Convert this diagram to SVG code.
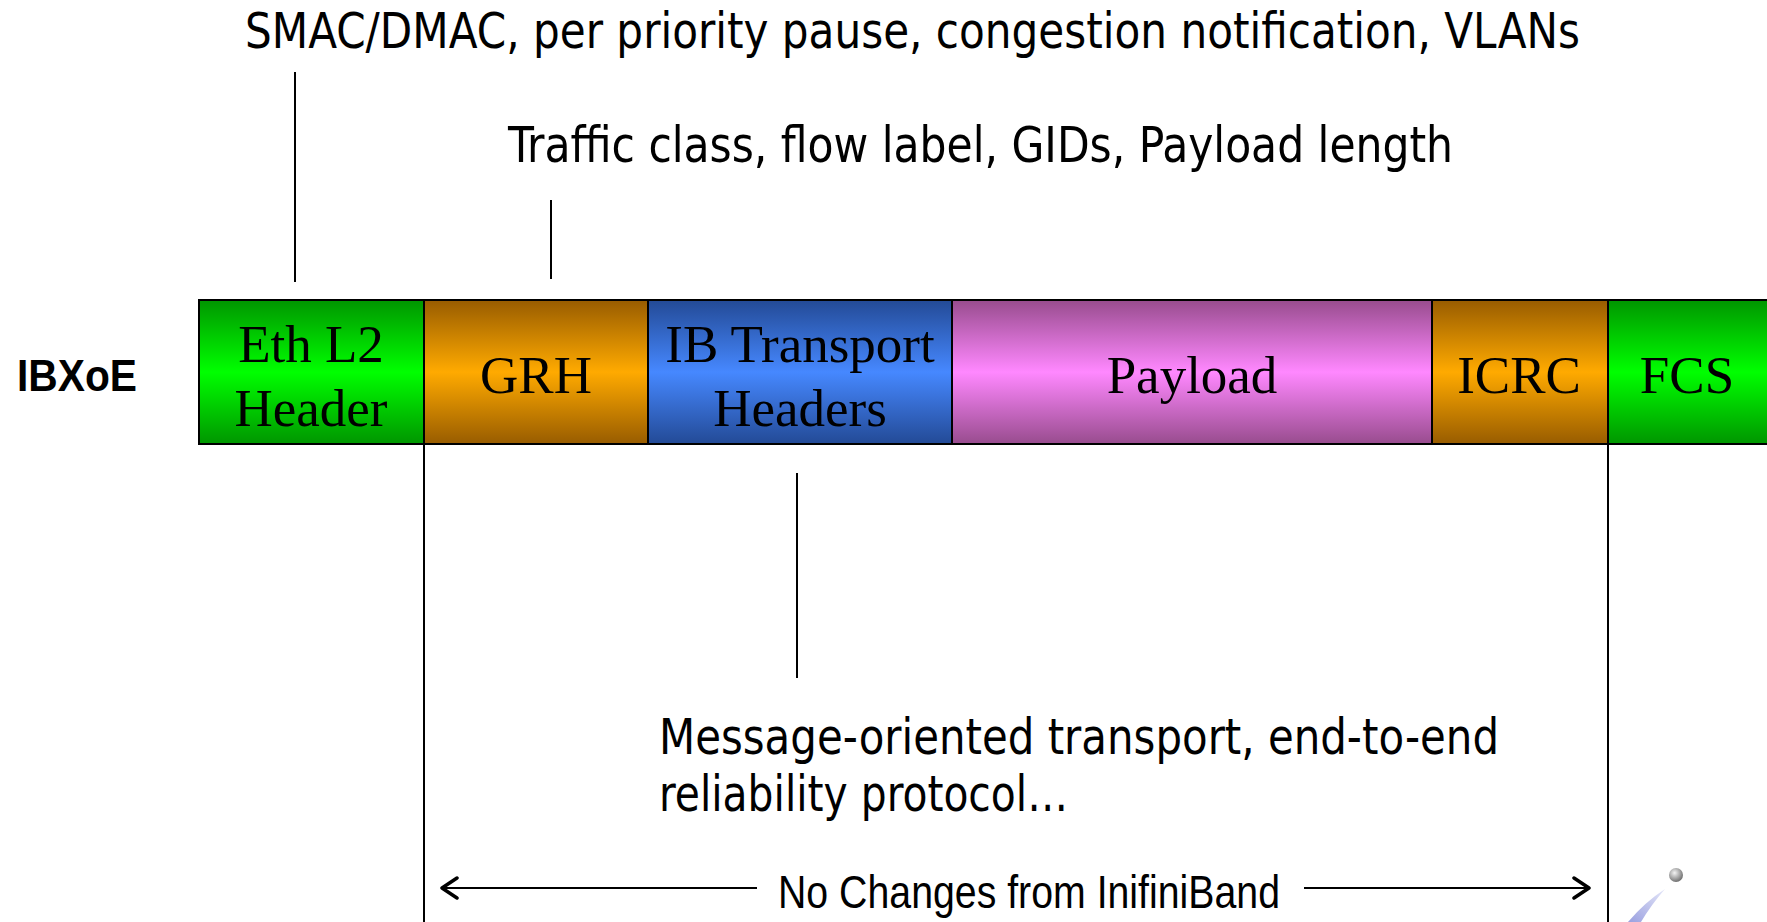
<svg xmlns="http://www.w3.org/2000/svg" width="1767" height="922" viewBox="0 0 1767 922">
  <style>
    .note { font-family: 'DejaVu Sans Condensed', 'DejaVu Sans', sans-serif; font-size: 49px; fill: #000; }
    .cell { font-family: 'Liberation Serif', 'Times New Roman', serif; font-size: 53px; fill: #000; text-anchor: middle; }
    .box { stroke: #000; stroke-width: 2; }
    .lead { stroke: #000; stroke-width: 2; fill: none; }
    .span { font-family: 'Liberation Sans Narrow', 'Liberation Sans', Arial, sans-serif; font-size: 47px; fill: #000; }
    .label { font-family: 'Liberation Sans', Arial, sans-serif; font-size: 44px; font-weight: bold; fill: #000; }
  </style>
  <defs>
    <linearGradient id="gGreen" x1="0" y1="0" x2="0" y2="1">
      <stop offset="0" stop-color="#009600"/>
      <stop offset="0.5" stop-color="#00ff00"/>
      <stop offset="1" stop-color="#009600"/>
    </linearGradient>
    <linearGradient id="gOrange" x1="0" y1="0" x2="0" y2="1">
      <stop offset="0" stop-color="#985c00"/>
      <stop offset="0.5" stop-color="#ffaa00"/>
      <stop offset="1" stop-color="#985c00"/>
    </linearGradient>
    <linearGradient id="gBlue" x1="0" y1="0" x2="0" y2="1">
      <stop offset="0" stop-color="#234a96"/>
      <stop offset="0.5" stop-color="#4688ff"/>
      <stop offset="1" stop-color="#234a96"/>
    </linearGradient>
    <linearGradient id="gPink" x1="0" y1="0" x2="0" y2="1">
      <stop offset="0" stop-color="#984c8e"/>
      <stop offset="0.5" stop-color="#ff88ff"/>
      <stop offset="1" stop-color="#984c8e"/>
    </linearGradient>
    <radialGradient id="gBall" cx="0.4" cy="0.35" r="0.7">
      <stop offset="0" stop-color="#f4f4f4"/>
      <stop offset="0.6" stop-color="#a0a0a0"/>
      <stop offset="1" stop-color="#666"/>
    </radialGradient>
    <linearGradient id="gSwoosh" x1="0" y1="1" x2="1" y2="0">
      <stop offset="0" stop-color="#9aa0e0"/>
      <stop offset="1" stop-color="#e4e6f8"/>
    </linearGradient>
    <marker id="chev" viewBox="0 0 20 24" refX="18" refY="12" markerWidth="20" markerHeight="24" markerUnits="userSpaceOnUse" orient="auto-start-reverse">
      <path d="M3,2 L18,12 L3,22" fill="none" stroke="#000" stroke-width="3.5" stroke-linecap="round" stroke-linejoin="round"/>
    </marker>
  </defs>

  <rect width="1767" height="922" fill="#fff"/>

  <!-- annotations above the frame -->
  <g id="note-eth">
    <text class="note" x="245" y="48" textLength="1335" lengthAdjust="spacingAndGlyphs">SMAC/DMAC, per priority pause, congestion notification, VLANs</text>
  </g>
  <g id="note-grh">
    <text class="note" x="508" y="162" textLength="945" lengthAdjust="spacingAndGlyphs">Traffic class, flow label, GIDs, Payload length</text>
  </g>

  <!-- row label -->
  <g id="row-label">
    <text class="label" x="17" y="391" textLength="120" lengthAdjust="spacingAndGlyphs">IBXoE</text>
  </g>

  <!-- frame fields -->
  <g id="field-eth">
    <rect class="box" x="199" y="300" width="225" height="144" fill="url(#gGreen)"/>
    <text class="cell" x="311" y="362">Eth L2</text>
    <text class="cell" x="311" y="426">Header</text>
  </g>
  <g id="field-grh">
    <rect class="box" x="424" y="300" width="224" height="144" fill="url(#gOrange)"/>
    <text class="cell" x="536" y="393">GRH</text>
  </g>
  <g id="field-ibt">
    <rect class="box" x="648" y="300" width="304" height="144" fill="url(#gBlue)"/>
    <text class="cell" x="800" y="362">IB Transport</text>
    <text class="cell" x="800" y="426">Headers</text>
  </g>
  <g id="field-payload">
    <rect class="box" x="952" y="300" width="480" height="144" fill="url(#gPink)"/>
    <text class="cell" x="1192" y="393">Payload</text>
  </g>
  <g id="field-icrc">
    <rect class="box" x="1432" y="300" width="176" height="144" fill="url(#gOrange)"/>
    <text class="cell" x="1519" y="393">ICRC</text>
  </g>
  <g id="field-fcs">
    <rect class="box" x="1608" y="300" width="162" height="144" fill="url(#gGreen)"/>
    <text class="cell" x="1687" y="393">FCS</text>
  </g>

  <!-- transport annotation below the frame -->
  <g id="note-transport">
    <text class="note" x="659" y="754" textLength="840" lengthAdjust="spacingAndGlyphs">Message-oriented transport, end-to-end</text>
    <text class="note" x="659" y="811" textLength="409" lengthAdjust="spacingAndGlyphs">reliability protocol…</text>
  </g>

  <!-- span label -->
  <g id="span-label">
    <text class="span" x="778" y="908" textLength="502" lengthAdjust="spacingAndGlyphs">No Changes from InifiniBand</text>
  </g>

  <!-- leader lines and span arrows -->
  <g id="connectors">
    <line class="lead" x1="295" y1="72" x2="295" y2="282"/>
    <line class="lead" x1="551" y1="200" x2="551" y2="279"/>
    <line class="lead" x1="797" y1="473" x2="797" y2="678"/>
    <line class="lead" x1="424" y1="444" x2="424" y2="922"/>
    <line class="lead" x1="1608" y1="444" x2="1608" y2="922"/>
    <line class="lead" x1="757" y1="888" x2="442" y2="888" marker-end="url(#chev)"/>
    <line class="lead" x1="1304" y1="888" x2="1589" y2="888" marker-end="url(#chev)"/>
  </g>

  <!-- corner logo mark -->
  <g id="logo">
    <path d="M1628,922 Q1645,902 1665,889 Q1651,905 1641,922 Z" fill="url(#gSwoosh)"/>
    <circle cx="1676" cy="875" r="7" fill="url(#gBall)"/>
  </g>
</svg>
